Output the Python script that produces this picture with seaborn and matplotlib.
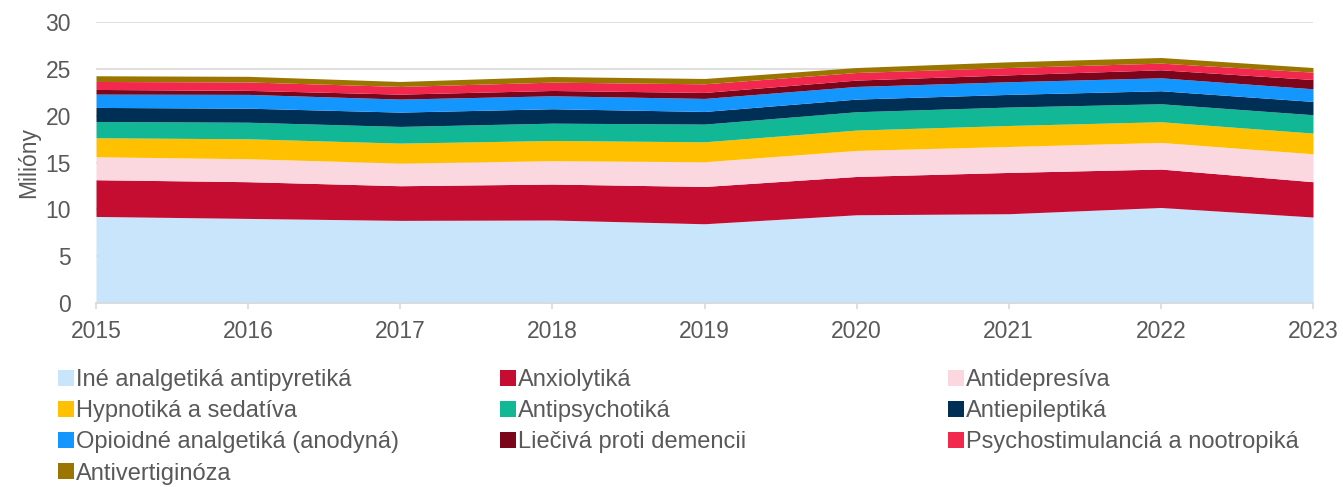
import matplotlib
matplotlib.use("Agg")
import matplotlib.pyplot as plt
import seaborn as sns
import numpy as np
from matplotlib.patches import Rectangle

years = [2015, 2016, 2017, 2018, 2019, 2020, 2021, 2022, 2023]
categories = [
    "Iné analgetiká antipyretiká", "Anxiolytiká", "Antidepresíva",
    "Hypnotiká a sedatíva", "Antipsychotiká", "Antiepileptiká",
    "Opioidné analgetiká (anodyná)", "Liečivá proti demencii",
    "Psychostimulanciá a nootropiká", "Antivertiginóza",
]
ine_analgetika = [9.24, 9.03, 8.82, 8.86, 8.46, 9.42, 9.53, 10.20, 9.18]
anxiolytika = [3.92, 3.92, 3.70, 3.84, 3.98, 4.09, 4.41, 4.10, 3.77]
antidepresiva = [2.45, 2.45, 2.42, 2.49, 2.64, 2.78, 2.77, 2.84, 2.98]
hypnotika = [2.03, 2.13, 2.13, 2.16, 2.13, 2.17, 2.24, 2.21, 2.21]
antipsychotika = [1.74, 1.77, 1.78, 1.85, 1.89, 1.96, 1.97, 1.92, 1.96]
antiepileptika = [1.50, 1.50, 1.53, 1.54, 1.35, 1.35, 1.35, 1.39, 1.42]
opioidne = [1.42, 1.47, 1.39, 1.38, 1.39, 1.35, 1.35, 1.38, 1.35]
demencia = [0.50, 0.43, 0.53, 0.57, 0.64, 0.68, 0.74, 0.86, 0.99]
psychostimulancia = [0.85, 0.90, 0.82, 0.89, 0.92, 0.81, 0.78, 0.71, 0.79]
antivertiginoza = [0.61, 0.60, 0.53, 0.60, 0.57, 0.53, 0.61, 0.60, 0.49]

series = [ine_analgetika, anxiolytika, antidepresiva, hypnotika, antipsychotika,
          antiepileptika, opioidne, demencia, psychostimulancia, antivertiginoza]
colors = ["#C9E5FB", "#C40D31", "#FBD7DF", "#FFC000", "#12B896",
          "#002F56", "#1496FF", "#7B061C", "#F2284E", "#9A7600"]

sns.set_theme(style="white")
plt.rcParams["font.family"] = ["Liberation Sans", "DejaVu Sans"]

fig = plt.figure(figsize=(13.43, 4.87), dpi=100)
ax = fig.add_axes([96 / 1343, 1 - 303 / 487, (1313 - 96) / 1343, (303 - 22) / 487])

ax.stackplot(years, *series, colors=colors, linewidth=0)

ax.set_xlim(2015, 2023)
ax.set_ylim(0, 30)
ax.set_yticks(range(0, 31, 5))
ax.set_xticks(years)
ax.grid(axis="y", color="#D9D9D9", linewidth=1.2)
ax.set_axisbelow(True)
for s in ["top", "right", "left"]:
    ax.spines[s].set_visible(False)
ax.spines["bottom"].set_color("#D9D9D9")
ax.spines["bottom"].set_linewidth(1.2)
ax.tick_params(axis="x", which="both", bottom=True, length=4.3, color="#D9D9D9",
               width=1.2, labelsize=16.5, labelcolor="#595959", pad=8)
ax.tick_params(axis="y", left=False, labelsize=16.5, labelcolor="#595959", pad=12)
ax.set_ylabel("Milióny", fontsize=16.5, color="#595959", labelpad=4)

handles = [Rectangle((0, 0), 1, 1, facecolor=c, edgecolor="none") for c in colors]
col_idx = [[0, 3, 6, 9], [1, 4, 7], [2, 5, 8]]
col_x = [58, 500, 948]
for xi, idx in zip(col_x, col_idx):
    fig.legend([handles[i] for i in idx], [categories[i] for i in idx],
               loc="upper left", bbox_to_anchor=(xi / 1343, 1 - 369 / 487),
               frameon=False, ncol=1, fontsize=17, labelcolor="#595959",
               handlelength=0.68, handleheight=0.68, handletextpad=0.1,
               labelspacing=0.39, borderaxespad=0, borderpad=0)

fig.savefig("out.png", dpi=100)
